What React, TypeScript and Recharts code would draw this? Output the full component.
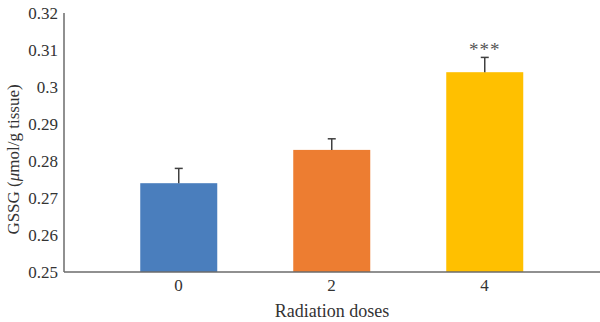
import { Bar, BarChart, Cell, XAxis, YAxis } from "recharts";

const doses = ["0", "2", "4"];
const gssg = [0.274, 0.283, 0.304];
const gssgErr = [0.004, 0.003, 0.004];
const signif = ["", "", "***"];
const barColors = ["#4a7ebd", "#ed7d31", "#ffc000"];
const yTicks = [0.25, 0.26, 0.27, 0.28, 0.29, 0.3, 0.31, 0.32];

const data = doses.map((d, i) => ({
  dose: d,
  value: gssg[i],
  err: gssgErr[i],
  sig: signif[i],
}));

const FONT = "'Liberation Serif', 'DejaVu Serif', serif";
const Y_MIN = 0.25;

// bar + upward-only error bar + significance stars
const BarWithError = (props: any) => {
  const { x, y, width, height, fill, payload } = props;
  const perUnit = height / (payload.value - Y_MIN);
  const top = y - payload.err * perUnit;
  const cx = x + width / 2;
  return (
    <g>
      <rect x={x} y={y} width={width} height={height} fill={fill} />
      <line x1={cx} y1={y} x2={cx} y2={top} stroke="#404040" strokeWidth={1.5} />
      <line x1={cx - 4} y1={top} x2={cx + 4} y2={top} stroke="#404040" strokeWidth={1.5} />
      {payload.sig && (
        <text
          x={cx}
          y={top - 1}
          textAnchor="middle"
          fontFamily={FONT}
          fontSize={19}
          letterSpacing={1}
          fill="#555"
        >
          {payload.sig}
        </text>
      )}
    </g>
  );
};

const YLabel = (props: any) => {
  const { viewBox } = props;
  const cy = viewBox.y + viewBox.height / 2 + 17;
  const cx = 13;
  return (
    <text
      x={cx}
      y={cy}
      transform={`rotate(-90 ${cx} ${cy})`}
      textAnchor="middle"
      dominantBaseline="central"
      fontFamily={FONT}
      fontSize={17}
      fill="#333"
    >
      GSSG (<tspan fontStyle="italic">μ</tspan>mol/g tissue)
    </text>
  );
};

const fmt = (v: number) => String(Number(v.toFixed(2)));

export default function App() {
  return (
    <div style={{ position: "absolute", left: 0, top: 0, background: "#fff" }}>
      <BarChart
        width={600}
        height={322}
        data={data}
        margin={{ top: 13, right: 0, bottom: 0, left: 0 }}
        barCategoryGap="25%"
      >
        <XAxis
          dataKey="dose"
          padding={{ left: 38, right: 39 }}
          tickLine={false}
          tickSize={0}
          tickMargin={7}
          axisLine={{ stroke: "#6b6b6b", strokeWidth: 1.5 }}
          tick={{ fill: "#333", fontFamily: FONT, fontSize: 17 }}
          height={50}
          label={{
            value: "Radiation doses",
            position: "insideBottom",
            offset: 5,
            fill: "#333",
            fontFamily: FONT,
            fontSize: 18,
          }}
        />
        <YAxis
          domain={[0.25, 0.32]}
          ticks={yTicks}
          tickFormatter={fmt}
          width={64}
          tickLine={false}
          tickSize={0}
          tickMargin={6}
          axisLine={{ stroke: "#6b6b6b", strokeWidth: 1.5 }}
          tick={{ fill: "#333", fontFamily: FONT, fontSize: 17 }}
          label={<YLabel />}
          allowDataOverflow
        />
        <Bar dataKey="value" shape={<BarWithError />} isAnimationActive={false}>
          {data.map((d, i) => (
            <Cell key={d.dose} fill={barColors[i]} />
          ))}
        </Bar>
      </BarChart>
    </div>
  );
}
